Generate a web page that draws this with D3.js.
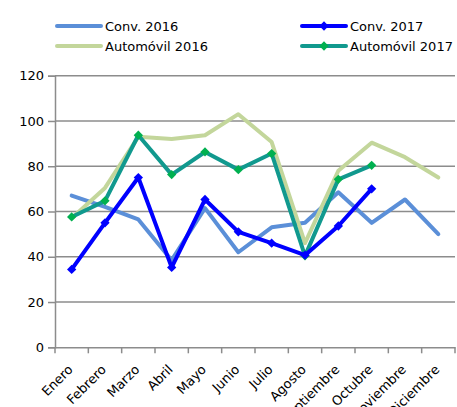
<!DOCTYPE html>
<html><head><meta charset="utf-8">
<script src="https://cdn.jsdelivr.net/npm/d3@7"></script>
<style>body{margin:0;background:#fff}svg{display:block}text{font-family:"DejaVu Sans",Verdana,sans-serif}</style>
</head><body><svg id="c" width="457" height="407"></svg>
<script>
const months = ["Enero","Febrero","Marzo","Abril","Mayo","Junio","Julio","Agosto","Septiembre","Octubre","Noviembre","Diciembre"];
const yTicks = [0,20,40,60,80,100,120];
const conv2016 = [67,62,56.5,38.5,61.5,42,53,55,68.5,55,65.3,50];
const conv2017 = [34.4,55,75,35.3,65.3,51,46,40.7,53.6,70];
const auto2016 = [57,70.4,93,92,93.7,103,90.7,46,78,90.4,84,75];
const auto2017 = [57.6,64.7,93.7,76.3,86.3,78.5,85.6,40.4,74.2,80.4];
const seriesNames = ["Conv. 2016","Conv. 2017","Automóvil 2016","Automóvil 2017"];

const series = [
  {name:seriesNames[0], values:conv2016, color:"#5B8FD8", marker:null},
  {name:seriesNames[2], values:auto2016, color:"#C3D69B", marker:null},
  {name:seriesNames[3], values:auto2017, color:"#11998E", marker:"#00B050"},
  {name:seriesNames[1], values:conv2017, color:"#0000FF", marker:"#0000FF"}
];

const svg = d3.select("#c");
const L=55, R=455, T=75.7, B=347.3;
const x = d3.scaleBand().domain(months).range([L,R]);
const y = d3.scaleLinear().domain([0,120]).range([B,T]);

// gridlines
svg.append("g").selectAll("line").data(yTicks.filter(d=>d>0)).join("line")
  .attr("x1",L).attr("x2",R).attr("y1",d=>y(d)).attr("y2",d=>y(d))
  .attr("stroke","#8c8c8c").attr("stroke-width",1.5);

// y axis
const ya = svg.append("g").attr("transform",`translate(${L},0)`)
  .call(d3.axisLeft(y).tickValues(yTicks).tickSize(7).tickPadding(4));
ya.select(".domain").attr("stroke","#8c8c8c").attr("stroke-width",1.5);
ya.selectAll(".tick line").attr("stroke","#8c8c8c").attr("stroke-width",1.5);
ya.selectAll("text").attr("font-size",13).attr("fill","#000").attr("font-family","DejaVu Sans");

// x axis
const xa = svg.append("g").attr("transform",`translate(0,${B})`)
  .call(d3.axisBottom(x).tickSize(0).tickFormat(""));
xa.select(".domain").attr("stroke","#8c8c8c").attr("stroke-width",1.5);
const bounds = months.map(m=>x(m)).concat([R]);
svg.append("g").selectAll("line").data(bounds).join("line")
  .attr("x1",d=>d).attr("x2",d=>d).attr("y1",B).attr("y2",B+6)
  .attr("stroke","#8c8c8c").attr("stroke-width",1.5);
svg.append("g").selectAll("text").data(months).join("text")
  .attr("transform",d=>`translate(${x(d)+x.bandwidth()/2+2},${B+23}) rotate(-45)`)
  .attr("text-anchor","end").attr("font-size",13).attr("fill","#000")
  .text(d=>d);

const line = d3.line().x((d,i)=>x(months[i])+x.bandwidth()/2).y(d=>y(d));
const diamond = d3.symbol().type(d3.symbolDiamond2).size(55);
series.forEach(s=>{
  svg.append("path").datum(s.values).attr("d",line).attr("fill","none")
    .attr("stroke",s.color).attr("stroke-width",4).attr("stroke-linejoin","round").attr("stroke-linecap","round");
  if(s.marker){
    svg.append("g").selectAll("path").data(s.values).join("path")
      .attr("d",diamond)
      .attr("transform",(d,i)=>`translate(${x(months[i])+x.bandwidth()/2},${y(d)})`)
      .attr("fill",s.marker);
  }
});

// legend
const leg = [
  {s:series[0], x:57, y:26},
  {s:series[3], x:302, y:26},
  {s:series[1], x:57, y:46},
  {s:series[2], x:302, y:46}
];
leg.forEach(l=>{
  const g = svg.append("g");
  g.append("line").attr("x1",l.x).attr("x2",l.x+44).attr("y1",l.y).attr("y2",l.y)
   .attr("stroke",l.s.color).attr("stroke-width",4).attr("stroke-linecap","round");
  if(l.s.marker) g.append("path").attr("d",diamond).attr("transform",`translate(${l.x+22},${l.y})`).attr("fill",l.s.marker);
  g.append("text").attr("x",l.x+48).attr("y",l.y+5).attr("font-size",13).attr("fill","#000").text(l.s.name);
});
</script></body></html>
